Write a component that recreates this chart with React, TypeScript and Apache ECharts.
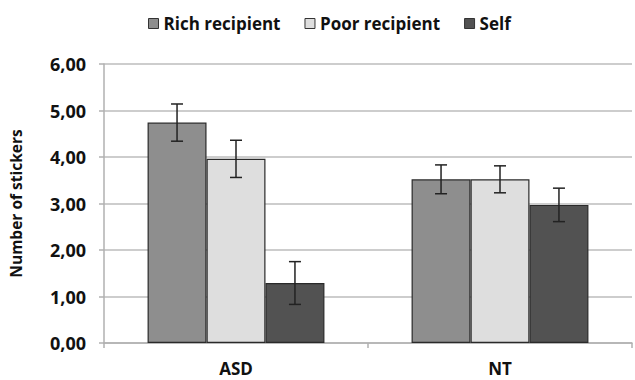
import React, { useEffect, useRef } from "react";
import * as echarts from "echarts";

const categories = ["ASD", "NT"];
const seriesNames = ["Rich recipient", "Poor recipient", "Self"];
const richValues = [4.74, 3.52];
const poorValues = [3.96, 3.52];
const selfValues = [1.29, 2.97];
const richErr = [0.4, 0.31];
const poorErr = [0.4, 0.29];
const selfErr = [0.46, 0.36];
const yTicks = [0, 1, 2, 3, 4, 5, 6];

const colors = ["#8e8e8e", "#dedede", "#525252"];
const CAT_GAP = 0.33;
const FONT = "'Open Sans', sans-serif";

export default function App() {
  const ref = useRef<HTMLDivElement>(null);
  useEffect(() => {
    if (!ref.current) return;
    const chart = echarts.init(ref.current, null, { renderer: "svg" });
    const values = [richValues, poorValues, selfValues];
    const errs = [richErr, poorErr, selfErr];

    const barSeries = seriesNames.map((name, i) => ({
      name,
      type: "bar",
      data: values[i],
      barGap: "0%",
      barCategoryGap: "33%",
      itemStyle: { color: colors[i], borderColor: "#2a2a2a", borderWidth: 1.2 },
      z: 2,
    }));

    const errSeries = seriesNames.map((name, i) => ({
      name: name + "-err",
      type: "custom",
      z: 5,
      silent: true,
      data: categories.map((_, j) => [j, values[i][j], errs[i][j]]),
      encode: { x: 0, y: 1 },
      renderItem: (params: any, api: any) => {
        const ci = api.value(0);
        const v = api.value(1);
        const e = api.value(2);
        const band = api.size([1, 0])[0];
        const bw = (band * (1 - CAT_GAP)) / 3;
        const center = api.coord([ci, v]);
        const x = center[0] + (i - 1) * bw;
        const top = api.coord([ci, v + e])[1];
        const bot = api.coord([ci, v - e])[1];
        const cap = 6;
        const style = { stroke: "#222", lineWidth: 1.5 };
        return {
          type: "group",
          children: [
            { type: "line", shape: { x1: x, y1: top, x2: x, y2: bot }, style },
            { type: "line", shape: { x1: x - cap, y1: top, x2: x + cap, y2: top }, style },
            { type: "line", shape: { x1: x - cap, y1: bot, x2: x + cap, y2: bot }, style },
          ],
        };
      },
    }));

    chart.setOption({
      animation: false,
      legend: {
        top: 10,
        left: 143,
        itemWidth: 10,
        itemHeight: 10,
        itemGap: 24,
        icon: "rect",
        data: seriesNames.map((n, i) => ({
          name: n,
          itemStyle: { color: colors[i], borderColor: "#333", borderWidth: 1 },
        })),
        textStyle: { fontFamily: FONT, fontWeight: "bold", fontSize: 17, color: "#111" },
      },
      grid: { left: 101, right: 3, top: 64, bottom: 37 },
      xAxis: {
        type: "category",
        data: categories,
        axisLine: { lineStyle: { color: "#b0b0b0", width: 1.5 } },
        axisTick: { show: true, length: 5, lineStyle: { color: "#b0b0b0", width: 1.5 } },
        axisLabel: { fontFamily: FONT, fontWeight: "bold", fontSize: 17, color: "#111", margin: 17 },
      },
      yAxis: {
        type: "value",
        min: 0,
        max: 6,
        interval: 1,
        name: "Number of stickers",
        nameLocation: "middle",
        nameGap: 80,
        nameTextStyle: { fontFamily: FONT, fontWeight: "bold", fontSize: 15.5, color: "#111" },
        axisLine: { show: true, lineStyle: { color: "#b0b0b0", width: 1.5 } },
        axisTick: { show: true, length: 5, lineStyle: { color: "#b0b0b0", width: 1.5 } },
        splitLine: { lineStyle: { color: "#bdbdbd", width: 1.5 } },
        axisLabel: {
          fontFamily: FONT,
          fontWeight: "bold",
          fontSize: 18,
          color: "#111",
          margin: 18,
          formatter: (v: number) => (yTicks.includes(v) ? v.toFixed(2).replace(".", ",") : ""),
        },
      },
      series: [...barSeries, ...errSeries],
    });
    return () => chart.dispose();
  }, []);
  return <div ref={ref} style={{ width: 635, height: 380, position: "absolute", left: 0, top: 0 }} />;
}
